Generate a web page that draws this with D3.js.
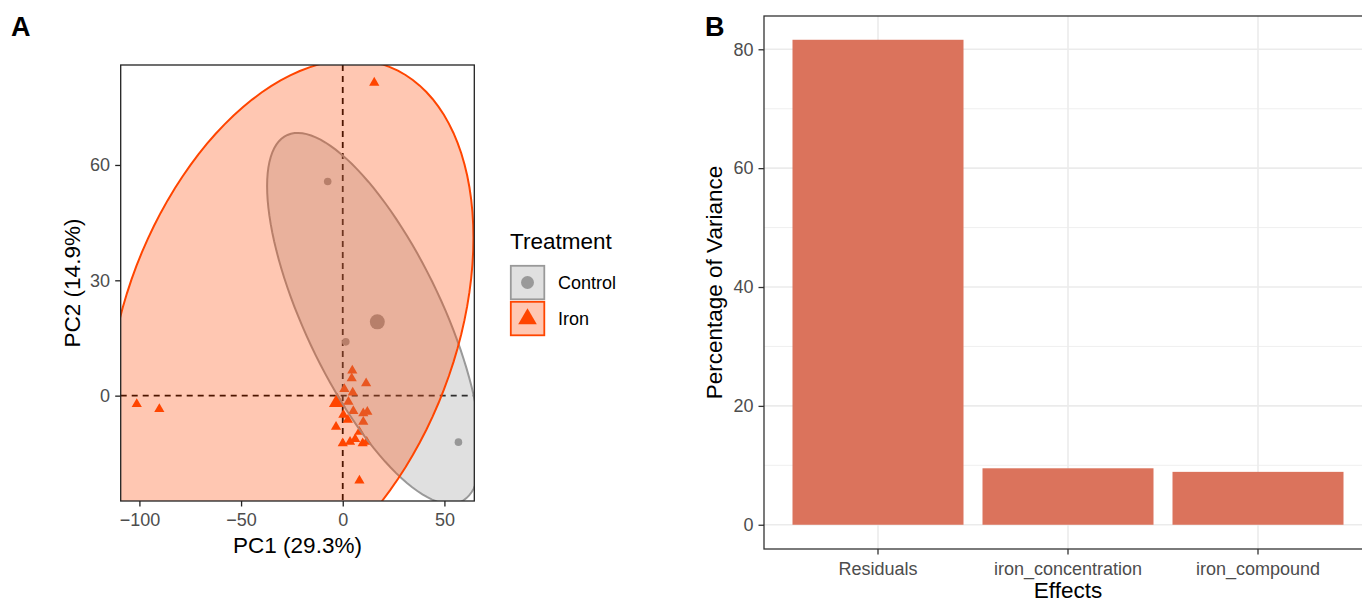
<!DOCTYPE html>
<html>
<head>
<meta charset="utf-8">
<script src="https://cdn.jsdelivr.net/npm/d3@7"></script>
<style>
  body { margin: 0; background: #fff; }
  text { font-family: "Liberation Sans", Arial, sans-serif; }
</style>
</head>
<body>
<div id="canvas"></div>
<script>
"use strict";

/* Data: PCA scores per treatment (panel A) */
let groups = ["Control", "Iron"];
let controlPC1 = [-7.4, 1.5, 56.9];
let controlPC2 = [55.7, 14.0, -12.1];
let ironPC1 = [15.5, -101.3, -90.2, 8.2, 4.7, 4.4, 11.5, 0.8, 4.9, 2.8, 5.2, 10.1,
               12.1, 0.3, 2.5, 10.1, -3.3, 8.2, 6.1, 3.6, 0.0, 9.8, 11.8];
let ironPC2 = [81.4, -2.2, -3.5, -22.1, 6.5, 4.5, 3.2, 1.7, 0.8, -1.6, -4.0, -4.6,
               -4.2, -5.0, -6.3, -6.8, -8.1, -9.4, -11.3, -12.0, -12.4, -12.4, -12.0];

/* Ellipses: centre and shape (var PC1, cov, var PC2), fitted to the outlines in the picture */
let ellipseCentres = [[15.34, 20.08], [-25.84, 17.67]];
let ellipseShapes = [[2760.8, -1809.4, 2328.7], [8120.3, 2108.7, 4855.7]];

let pcaTicksX = [-100, -50, 0, 50];
let pcaTicksY = [0, 30, 60];

/* Data: variance partition (panel B) */
let effects = ["Residuals", "iron_concentration", "iron_compound"];
let variancePct = [81.6, 9.5, 8.9];
let varTicks = [0, 20, 40, 60, 80];
let varMinorTicks = [10, 30, 50, 70];

/* Drawing config */
let svgWidth = 1362;
let svgHeight = 602;
let groupColours = ["#999999", "#FF4500"];
let barColour = "#DB735C";
let textGrey = "#4D4D4D";

let svg = d3.select("#canvas")
  .append("svg")
  .attr("width", svgWidth)
  .attr("height", svgHeight);

/* ---------------- Panel A ---------------- */
let a = { left: 120.7, right: 474.3, top: 65, bottom: 501 };

let xA = d3.scaleLinear().domain([-109.2, 64.7]).range([a.left, a.right]);
let yA = d3.scaleLinear().domain([-27.4, 86.0]).range([a.bottom, a.top]);

svg.append("clipPath").attr("id", "clipA")
  .append("rect")
  .attr("x", a.left).attr("y", a.top)
  .attr("width", a.right - a.left).attr("height", a.bottom - a.top);

let plotA = svg.append("g").attr("clip-path", "url(#clipA)");

// reference lines at 0
plotA.append("line")
  .attr("x1", a.left).attr("x2", a.right)
  .attr("y1", yA(0)).attr("y2", yA(0))
  .attr("stroke", "#000").attr("stroke-width", 1.8).attr("stroke-dasharray", "6,5");
plotA.append("line")
  .attr("x1", xA(0)).attr("x2", xA(0))
  .attr("y1", a.top).attr("y2", a.bottom)
  .attr("stroke", "#000").attr("stroke-width", 1.8).attr("stroke-dasharray", "6,5");

let controlData = controlPC1.map((d, i) => ({ pc1: d, pc2: controlPC2[i] }));
let ironData = ironPC1.map((d, i) => ({ pc1: d, pc2: ironPC2[i] }));

// individual points
plotA.selectAll("circle.pt")
  .data(controlData)
  .join("circle")
  .attr("class", "pt")
  .attr("cx", d => xA(d.pc1))
  .attr("cy", d => yA(d.pc2))
  .attr("r", 3.8)
  .attr("fill", groupColours[0]);

plotA.selectAll("path.pt")
  .data(ironData)
  .join("path")
  .attr("class", "pt")
  .attr("d", d3.symbol().type(d3.symbolTriangle).size(45)())
  .attr("transform", d => `translate(${xA(d.pc1)},${yA(d.pc2)})`)
  .attr("fill", groupColours[1]);

// group means (big symbols)
let controlMean = [d3.mean(controlPC1), d3.mean(controlPC2)];
let ironMean = [d3.mean(ironPC1), d3.mean(ironPC2)];

plotA.append("circle")
  .attr("cx", xA(controlMean[0]))
  .attr("cy", yA(controlMean[1]))
  .attr("r", 7.5)
  .attr("fill", groupColours[0]);

plotA.append("path")
  .attr("d", d3.symbol().type(d3.symbolTriangle).size(120)())
  .attr("transform", `translate(${xA(ironMean[0])},${yA(ironMean[1])})`)
  .attr("fill", groupColours[1]);

// ellipses
function ellipsePoints(centre, shape) {
  let l11 = Math.sqrt(shape[0]);
  let l21 = shape[1] / l11;
  let l22 = Math.sqrt(shape[2] - l21 * l21);
  return d3.range(0, 121).map(i => {
    let t = 2 * Math.PI * i / 120;
    return [centre[0] + l11 * Math.cos(t),
            centre[1] + l21 * Math.cos(t) + l22 * Math.sin(t)];
  });
}

let ellipseLine = d3.line()
  .x(d => xA(d[0]))
  .y(d => yA(d[1]));

groups.forEach((g, i) => {
  plotA.append("path")
    .attr("d", ellipseLine(ellipsePoints(ellipseCentres[i], ellipseShapes[i])) + "Z")
    .attr("fill", groupColours[i])
    .attr("fill-opacity", 0.3)
    .attr("stroke", groupColours[i])
    .attr("stroke-width", 2);
});

// panel border
svg.append("rect")
  .attr("x", a.left).attr("y", a.top)
  .attr("width", a.right - a.left).attr("height", a.bottom - a.top)
  .attr("fill", "none").attr("stroke", "#222").attr("stroke-width", 1.3);

// axes
let xAxisA = svg.append("g")
  .attr("transform", `translate(0,${a.bottom})`)
  .call(d3.axisBottom(xA).tickValues(pcaTicksX).tickSize(5.5).tickSizeOuter(0).tickPadding(6.7));
let yAxisA = svg.append("g")
  .attr("transform", `translate(${a.left},0)`)
  .call(d3.axisLeft(yA).tickValues(pcaTicksY).tickSize(5.5).tickSizeOuter(0).tickPadding(5.2));

[xAxisA, yAxisA].forEach(ax => {
  ax.select(".domain").remove();
  ax.selectAll("line").attr("stroke", "#222").attr("stroke-width", 1.3);
  ax.selectAll("text").attr("fill", textGrey).attr("font-size", 18)
    .style("font-family", "'Liberation Sans', Arial, sans-serif");
});

svg.append("text")
  .attr("x", (a.left + a.right) / 2)
  .attr("y", 553)
  .attr("text-anchor", "middle")
  .attr("font-size", 22.5)
  .text("PC1 (29.3%)");

svg.append("text")
  .attr("transform", `translate(80,${(a.top + a.bottom) / 2}) rotate(-90)`)
  .attr("text-anchor", "middle")
  .attr("font-size", 22.5)
  .text("PC2 (14.9%)");

svg.append("text")
  .attr("x", 11).attr("y", 36)
  .attr("font-size", 27).attr("font-weight", "bold")
  .text("A");

// legend
let legend = svg.append("g").attr("transform", "translate(510,0)");
legend.append("text")
  .attr("x", 0).attr("y", 249)
  .attr("font-size", 22.5)
  .text("Treatment");

groups.forEach((g, i) => {
  let y0 = 265 + i * 36;
  legend.append("rect")
    .attr("x", 0.8).attr("y", y0 + 0.8)
    .attr("width", 33.5).attr("height", 33.5)
    .attr("fill", groupColours[i]).attr("fill-opacity", 0.3)
    .attr("stroke", groupColours[i]).attr("stroke-width", 1.8);
  if (i === 0) {
    legend.append("circle")
      .attr("cx", 17.5).attr("cy", y0 + 17.5).attr("r", 6.5)
      .attr("fill", groupColours[i]);
  } else {
    legend.append("path")
      .attr("d", d3.symbol().type(d3.symbolTriangle).size(150)())
      .attr("transform", `translate(17.5,${y0 + 18})`)
      .attr("fill", groupColours[i]);
  }
  legend.append("text")
    .attr("x", 48).attr("y", y0 + 17.5)
    .attr("dy", "0.36em")
    .attr("font-size", 18)
    .text(g);
});

/* ---------------- Panel B ---------------- */
let b = { left: 764, right: 1372, top: 16, bottom: 549 };

let xB = d3.scaleBand()
  .domain(effects)
  .range([b.left, b.right])
  .paddingInner(0.1)
  .paddingOuter(0.15);

let yB = d3.scaleLinear().domain([-4.08, 85.6]).range([b.bottom, b.top]);

// grid
svg.selectAll("line.minor")
  .data(varMinorTicks)
  .join("line")
  .attr("class", "minor")
  .attr("x1", b.left).attr("x2", b.right)
  .attr("y1", d => yB(d)).attr("y2", d => yB(d))
  .attr("stroke", "#EBEBEB").attr("stroke-width", 0.8);

svg.selectAll("line.majorY")
  .data(varTicks)
  .join("line")
  .attr("class", "majorY")
  .attr("x1", b.left).attr("x2", b.right)
  .attr("y1", d => yB(d)).attr("y2", d => yB(d))
  .attr("stroke", "#EBEBEB").attr("stroke-width", 1.6);

svg.selectAll("line.majorX")
  .data(effects)
  .join("line")
  .attr("class", "majorX")
  .attr("x1", d => xB(d) + xB.bandwidth() / 2).attr("x2", d => xB(d) + xB.bandwidth() / 2)
  .attr("y1", b.top).attr("y2", b.bottom)
  .attr("stroke", "#EBEBEB").attr("stroke-width", 1.6);

// bars
svg.selectAll("rect.bar")
  .data(effects)
  .join("rect")
  .attr("class", "bar")
  .attr("x", d => xB(d))
  .attr("width", xB.bandwidth())
  .attr("y", (d, i) => yB(variancePct[i]))
  .attr("height", (d, i) => yB(0) - yB(variancePct[i]))
  .attr("fill", barColour);

// border
svg.append("rect")
  .attr("x", b.left).attr("y", b.top)
  .attr("width", b.right - b.left).attr("height", b.bottom - b.top)
  .attr("fill", "none").attr("stroke", "#333").attr("stroke-width", 1.3);

let xAxisB = svg.append("g")
  .attr("transform", `translate(0,${b.bottom})`)
  .call(d3.axisBottom(xB).tickSize(5.5).tickSizeOuter(0).tickPadding(7.7));
let yAxisB = svg.append("g")
  .attr("transform", `translate(${b.left},0)`)
  .call(d3.axisLeft(yB).tickValues(varTicks).tickSize(5.5).tickSizeOuter(0).tickPadding(5));

[xAxisB, yAxisB].forEach(ax => {
  ax.select(".domain").remove();
  ax.selectAll("line").attr("stroke", "#333").attr("stroke-width", 1.3);
  ax.selectAll("text").attr("fill", textGrey).attr("font-size", 18)
    .style("font-family", "'Liberation Sans', Arial, sans-serif");
});

svg.append("text")
  .attr("x", (xB("Residuals") + xB("iron_compound") + xB.bandwidth()) / 2)
  .attr("y", 598)
  .attr("text-anchor", "middle")
  .attr("font-size", 22.5)
  .text("Effects");

svg.append("text")
  .attr("transform", `translate(722,${(b.top + b.bottom) / 2}) rotate(-90)`)
  .attr("text-anchor", "middle")
  .attr("font-size", 22.5)
  .text("Percentage of Variance");

svg.append("text")
  .attr("x", 705).attr("y", 36)
  .attr("font-size", 27).attr("font-weight", "bold")
  .text("B");
</script>
</body>
</html>
